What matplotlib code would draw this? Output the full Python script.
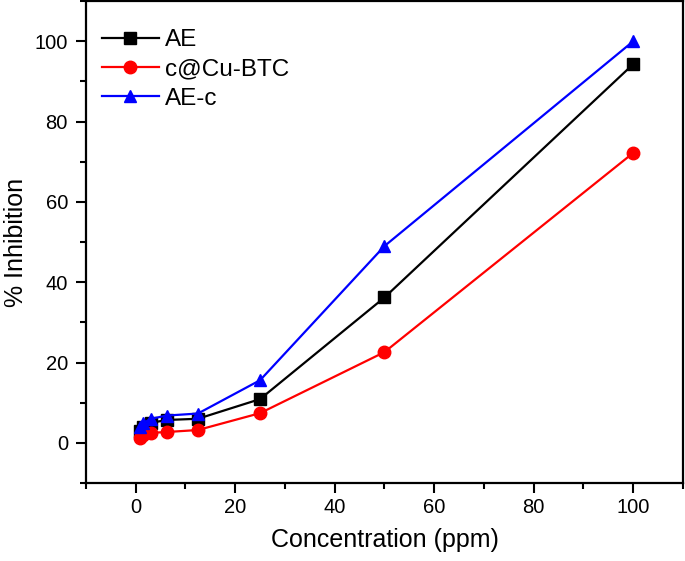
import matplotlib
matplotlib.use('Agg')
import matplotlib.pyplot as plt
from matplotlib.ticker import MultipleLocator

plt.rcParams['font.family'] = ['Liberation Sans', 'DejaVu Sans']

conc = [0.78, 1.56, 3.125, 6.25, 12.5, 25, 50, 100]
ae = [3.0, 4.0, 5.0, 5.7, 6.0, 10.9, 36.2, 94.3]
cu_btc = [1.3, 2.0, 2.5, 2.7, 3.2, 7.4, 22.6, 72.2]
ae_c = [4.0, 5.0, 6.0, 6.8, 7.3, 15.6, 49.0, 100.0]

fig = plt.figure(figsize=(6.85, 5.61), dpi=100)
ax = fig.add_axes([0.1255, 0.139, 0.8715, 0.859])

ax.plot(conc, ae, '-s', color='black', lw=1.6, ms=8, label='AE')
ax.plot(conc, cu_btc, '-o', color='red', lw=1.6, ms=9, label='c@Cu-BTC')
ax.plot(conc, ae_c, '-^', color='blue', lw=1.6, ms=9, label='AE-c')

ax.set_xlim(-10, 110)
ax.set_ylim(-10, 110)
ax.xaxis.set_major_locator(MultipleLocator(20))
ax.xaxis.set_minor_locator(MultipleLocator(10))
ax.yaxis.set_major_locator(MultipleLocator(20))
ax.yaxis.set_minor_locator(MultipleLocator(10))
ax.tick_params(which='major', direction='out', length=7, width=1.5, labelsize=14.5, pad=4)
ax.tick_params(axis='y', which='major', pad=6)
ax.tick_params(which='minor', direction='out', length=4, width=1.5)
for s in ax.spines.values():
    s.set_linewidth(1.6)

ax.set_xlabel('Concentration (ppm)', fontsize=18, labelpad=8)
ax.set_ylabel('% Inhibition', fontsize=18, labelpad=5)
ax.legend(loc='upper left', bbox_to_anchor=(0.01, 0.962), frameon=False,
          fontsize=17.5, handlelength=2.35, borderaxespad=0, labelspacing=0.3,
          handletextpad=0.25)

fig.savefig('out.png', dpi=100)
